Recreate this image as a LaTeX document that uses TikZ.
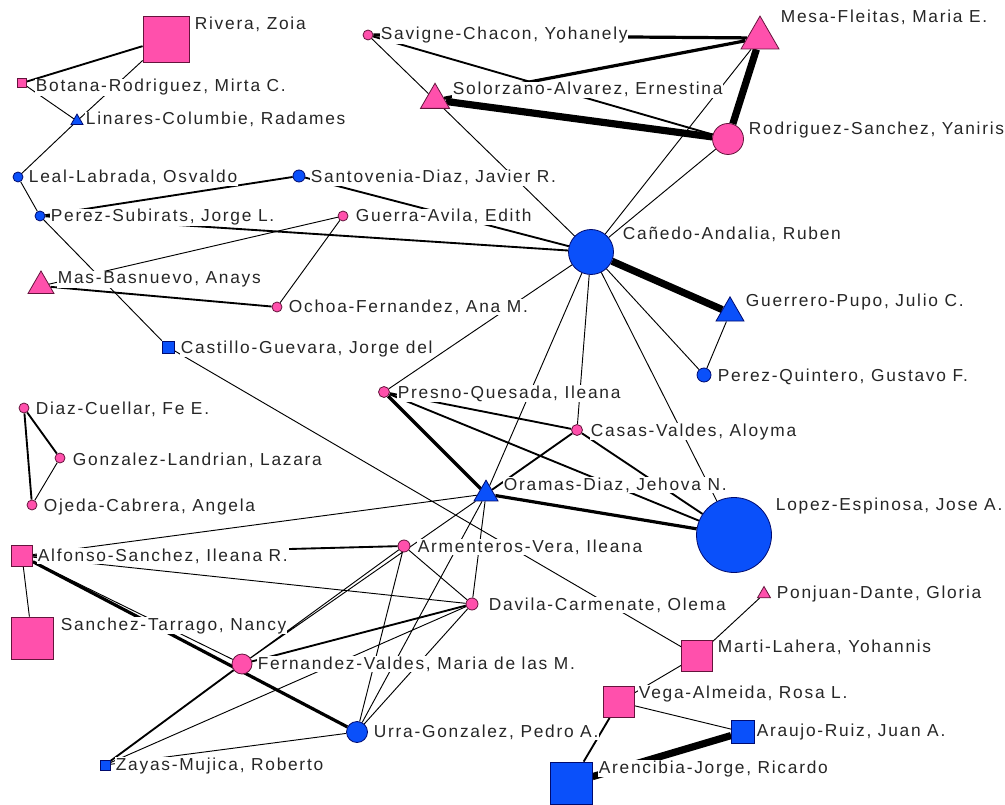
\documentclass[tikz,border=0pt]{standalone}
\usepackage{fontspec}
\newfontfamily\lblfont{Liberation Sans}[LetterSpace=10]
\usetikzlibrary{shapes.geometric,backgrounds}
\definecolor{pinkv}{RGB}{255,80,172}
\definecolor{pinkline}{RGB}{100,20,60}
\definecolor{bluev}{RGB}{10,80,250}
\definecolor{blueline}{RGB}{0,10,110}
\begin{document}
\begin{tikzpicture}[x=0.75pt,y=-0.75pt,
  v/.style={draw, inner sep=0pt, line width=0.6pt},
  pk/.style={v, fill=pinkv, draw=pinkline},
  bl/.style={v, fill=bluev, draw=blueline},
  sq/.style={rectangle, minimum size=#1*0.75pt},
  dot/.style={circle, minimum size=#1*0.75pt},
  tri/.style={regular polygon, regular polygon sides=3, minimum size=#1*0.866pt},
  lbl/.style={anchor=base west, fill=white, inner sep=0.5pt, text=black!85,
    font={\lblfont\fontsize{13}{15}\selectfont}},
  w1/.style={line width=0.7pt},
  w2/.style={line width=1.4pt},
  w3/.style={line width=2.4pt},
  w4/.style={line width=5.4pt}]
  \useasboundingbox (0,0) rectangle (1005,805);

  % authors
  \node[pk, sq=46] (rivera) at (166,39) {};
  \node[pk, sq=9] (botana) at (22,83) {};
  \node[bl, tri=12] (linares) at (77,121) {};
  \node[bl, dot=10] (leal) at (18,177) {};
  \node[bl, dot=12] (santovenia) at (299,176) {};
  \node[bl, dot=10] (perezs) at (40,216) {};
  \node[pk, dot=10] (guerra) at (343,216) {};
  \node[pk, tri=26] (mas) at (41,286) {};
  \node[pk, dot=10] (ochoa) at (277,307) {};
  \node[bl, sq=12] (castillo) at (168,347) {};
  \node[pk, dot=10] (diaz) at (24,408) {};
  \node[pk, dot=10] (gonzalez) at (60,458) {};
  \node[pk, dot=10] (ojeda) at (32,505) {};
  \node[pk, sq=21] (alfonso) at (22,556) {};
  \node[pk, sq=42] (tarrago) at (32,638) {};
  \node[pk, dot=20] (fernandez) at (242,664) {};
  \node[bl, sq=10] (zayas) at (105,765) {};
  \node[bl, dot=21] (urra) at (357,732) {};
  \node[pk, dot=12] (armenteros) at (404,546) {};
  \node[pk, dot=12] (davila) at (472,604) {};
  \node[bl, tri=24] (oramas) at (486,494) {};
  \node[pk, dot=11] (presno) at (384,392) {};
  \node[pk, dot=11] (casas) at (577,430) {};
  \node[bl, dot=75] (lopez) at (734,535) {};
  \node[bl, dot=45] (canedo) at (591,252) {};
  \node[bl, tri=28] (guerrero) at (730,313) {};
  \node[bl, dot=14] (perezq) at (704,375) {};
  \node[pk, tri=29] (solorzano) at (435,100) {};
  \node[pk, dot=10] (savigne) at (368,35) {};
  \node[pk, tri=38] (mesa) at (760,38) {};
  \node[pk, dot=31] (rodriguez) at (728,139) {};
  \node[pk, tri=13] (ponjuan) at (764,594) {};
  \node[pk, sq=31] (marti) at (697,656) {};
  \node[pk, sq=31] (vega) at (619,702) {};
  \node[bl, sq=23] (araujo) at (743,732) {};
  \node[bl, sq=42] (arencibia) at (571,783) {};

  % names
  \node[lbl] (rivera-t) at (194,30) {Rivera, Zoia};
  \node[lbl] (botana-t) at (35,92) {Botana-Rodriguez, Mirta C.};
  \node[lbl] (linares-t) at (85,125) {Linares-Columbie, Radames};
  \node[lbl] (leal-t) at (28,183) {Leal-Labrada, Osvaldo};
  \node[lbl] (santovenia-t) at (310,183) {Santovenia-Diaz, Javier R.};
  \node[lbl] (perezs-t) at (50,222) {Perez-Subirats, Jorge L.};
  \node[lbl] (guerra-t) at (355,222) {Guerra-Avila, Edith};
  \node[lbl] (mas-t) at (57,284) {Mas-Basnuevo, Anays};
  \node[lbl] (ochoa-t) at (288,312) {Ochoa-Fernandez, Ana M.};
  \node[lbl] (castillo-t) at (180,353) {Castillo-Guevara, Jorge del};
  \node[lbl] (diaz-t) at (35,414) {Diaz-Cuellar, Fe E.};
  \node[lbl] (gonzalez-t) at (72,465) {Gonzalez-Landrian, Lazara};
  \node[lbl] (ojeda-t) at (43,511) {Ojeda-Cabrera, Angela};
  \node[lbl] (alfonso-t) at (37,561) {Alfonso-Sanchez, Ileana R.};
  \node[lbl] (tarrago-t) at (60,630) {Sanchez-Tarrago, Nancy};
  \node[lbl] (fernandez-t) at (257,669) {Fernandez-Valdes, Maria de las M.};
  \node[lbl] (zayas-t) at (115,770) {Zayas-Mujica, Roberto};
  \node[lbl] (urra-t) at (373,737) {Urra-Gonzalez, Pedro A.};
  \node[lbl] (armenteros-t) at (417,552) {Armenteros-Vera, Ileana};
  \node[lbl] (davila-t) at (488,610) {Davila-Carmenate, Olema};
  \node[lbl] (oramas-t) at (503,490) {Oramas-Diaz, Jehova N.};
  \node[lbl] (presno-t) at (397,398) {Presno-Quesada, Ileana};
  \node[lbl] (casas-t) at (590,436) {Casas-Valdes, Aloyma};
  \node[lbl] (lopez-t) at (775,510) {Lopez-Espinosa, Jose A.};
  \node[lbl] (canedo-t) at (622,240) {Cañedo-Andalia, Ruben};
  \node[lbl] (guerrero-t) at (745,306) {Guerrero-Pupo, Julio C.};
  \node[lbl] (perezq-t) at (717,381) {Perez-Quintero, Gustavo F.};
  \node[lbl] (solorzano-t) at (452,95) {Solorzano-Alvarez, Ernestina};
  \node[lbl] (savigne-t) at (380,40) {Savigne-Chacon, Yohanely};
  \node[lbl] (mesa-t) at (780,23) {Mesa-Fleitas, Maria E.};
  \node[lbl] (rodriguez-t) at (748,135) {Rodriguez-Sanchez, Yaniris};
  \node[lbl] (ponjuan-t) at (776,598) {Ponjuan-Dante, Gloria};
  \node[lbl] (marti-t) at (717,652) {Marti-Lahera, Yohannis};
  \node[lbl] (vega-t) at (638,698) {Vega-Almeida, Rosa L.};
  \node[lbl] (araujo-t) at (756,736) {Araujo-Ruiz, Juan A.};
  \node[lbl] (arencibia-t) at (598,773) {Arencibia-Jorge, Ricardo};

  % co-authorship links
  \begin{pgfonlayer}{background}
    \fill[white] (0,0) rectangle (1005,805);
    \draw[w1] (rivera) -- (linares) (botana) -- (linares) (linares) -- (leal)
      (leal) -- (perezs) (perezs) -- (castillo) (mas) -- (guerra)
      (ochoa) -- (guerra) (castillo) -- (marti) (gonzalez) -- (ojeda)
      (alfonso) -- (tarrago) (alfonso) -- (fernandez) (alfonso) -- (oramas)
      (alfonso) -- (davila) (fernandez) -- (armenteros) (fernandez) -- (oramas)
      (zayas) -- (davila) (zayas) -- (urra) (urra) -- (armenteros)
      (urra) -- (oramas) (urra) -- (davila) (armenteros) -- (davila)
      (davila) -- (oramas) (oramas) -- (canedo) (canedo) -- (casas)
      (canedo) -- (lopez) (canedo) -- (presno) (canedo) -- (perezq)
      (guerrero) -- (perezq) (canedo) -- (mesa) (canedo) -- (rodriguez)
      (solorzano) -- (canedo) (savigne) -- (solorzano) (marti) -- (ponjuan)
      (marti) -- (vega) (vega) -- (araujo);
    \draw[w2] (rivera) -- (botana) (perezs) -- (santovenia)
      (santovenia) -- (canedo) (perezs) -- (canedo) (mas) -- (ochoa)
      (diaz) -- (gonzalez) (diaz) -- (ojeda) (fernandez) -- (zayas)
      (fernandez) -- (davila) (vega) -- (arencibia) (alfonso) -- (armenteros)
      (savigne) -- (rodriguez) (presno) -- (casas) (casas) -- (lopez)
      (presno) -- (lopez) (oramas) -- (casas);
    \draw[w3] (alfonso) -- (urra) (oramas) -- (presno) (oramas) -- (lopez)
      (savigne) -- (mesa) (solorzano) -- (mesa);
    \draw[w4] (canedo) -- (guerrero) (solorzano) -- (rodriguez)
      (mesa) -- (rodriguez) (araujo) -- (arencibia);
  \end{pgfonlayer}
\end{tikzpicture}
\end{document}
